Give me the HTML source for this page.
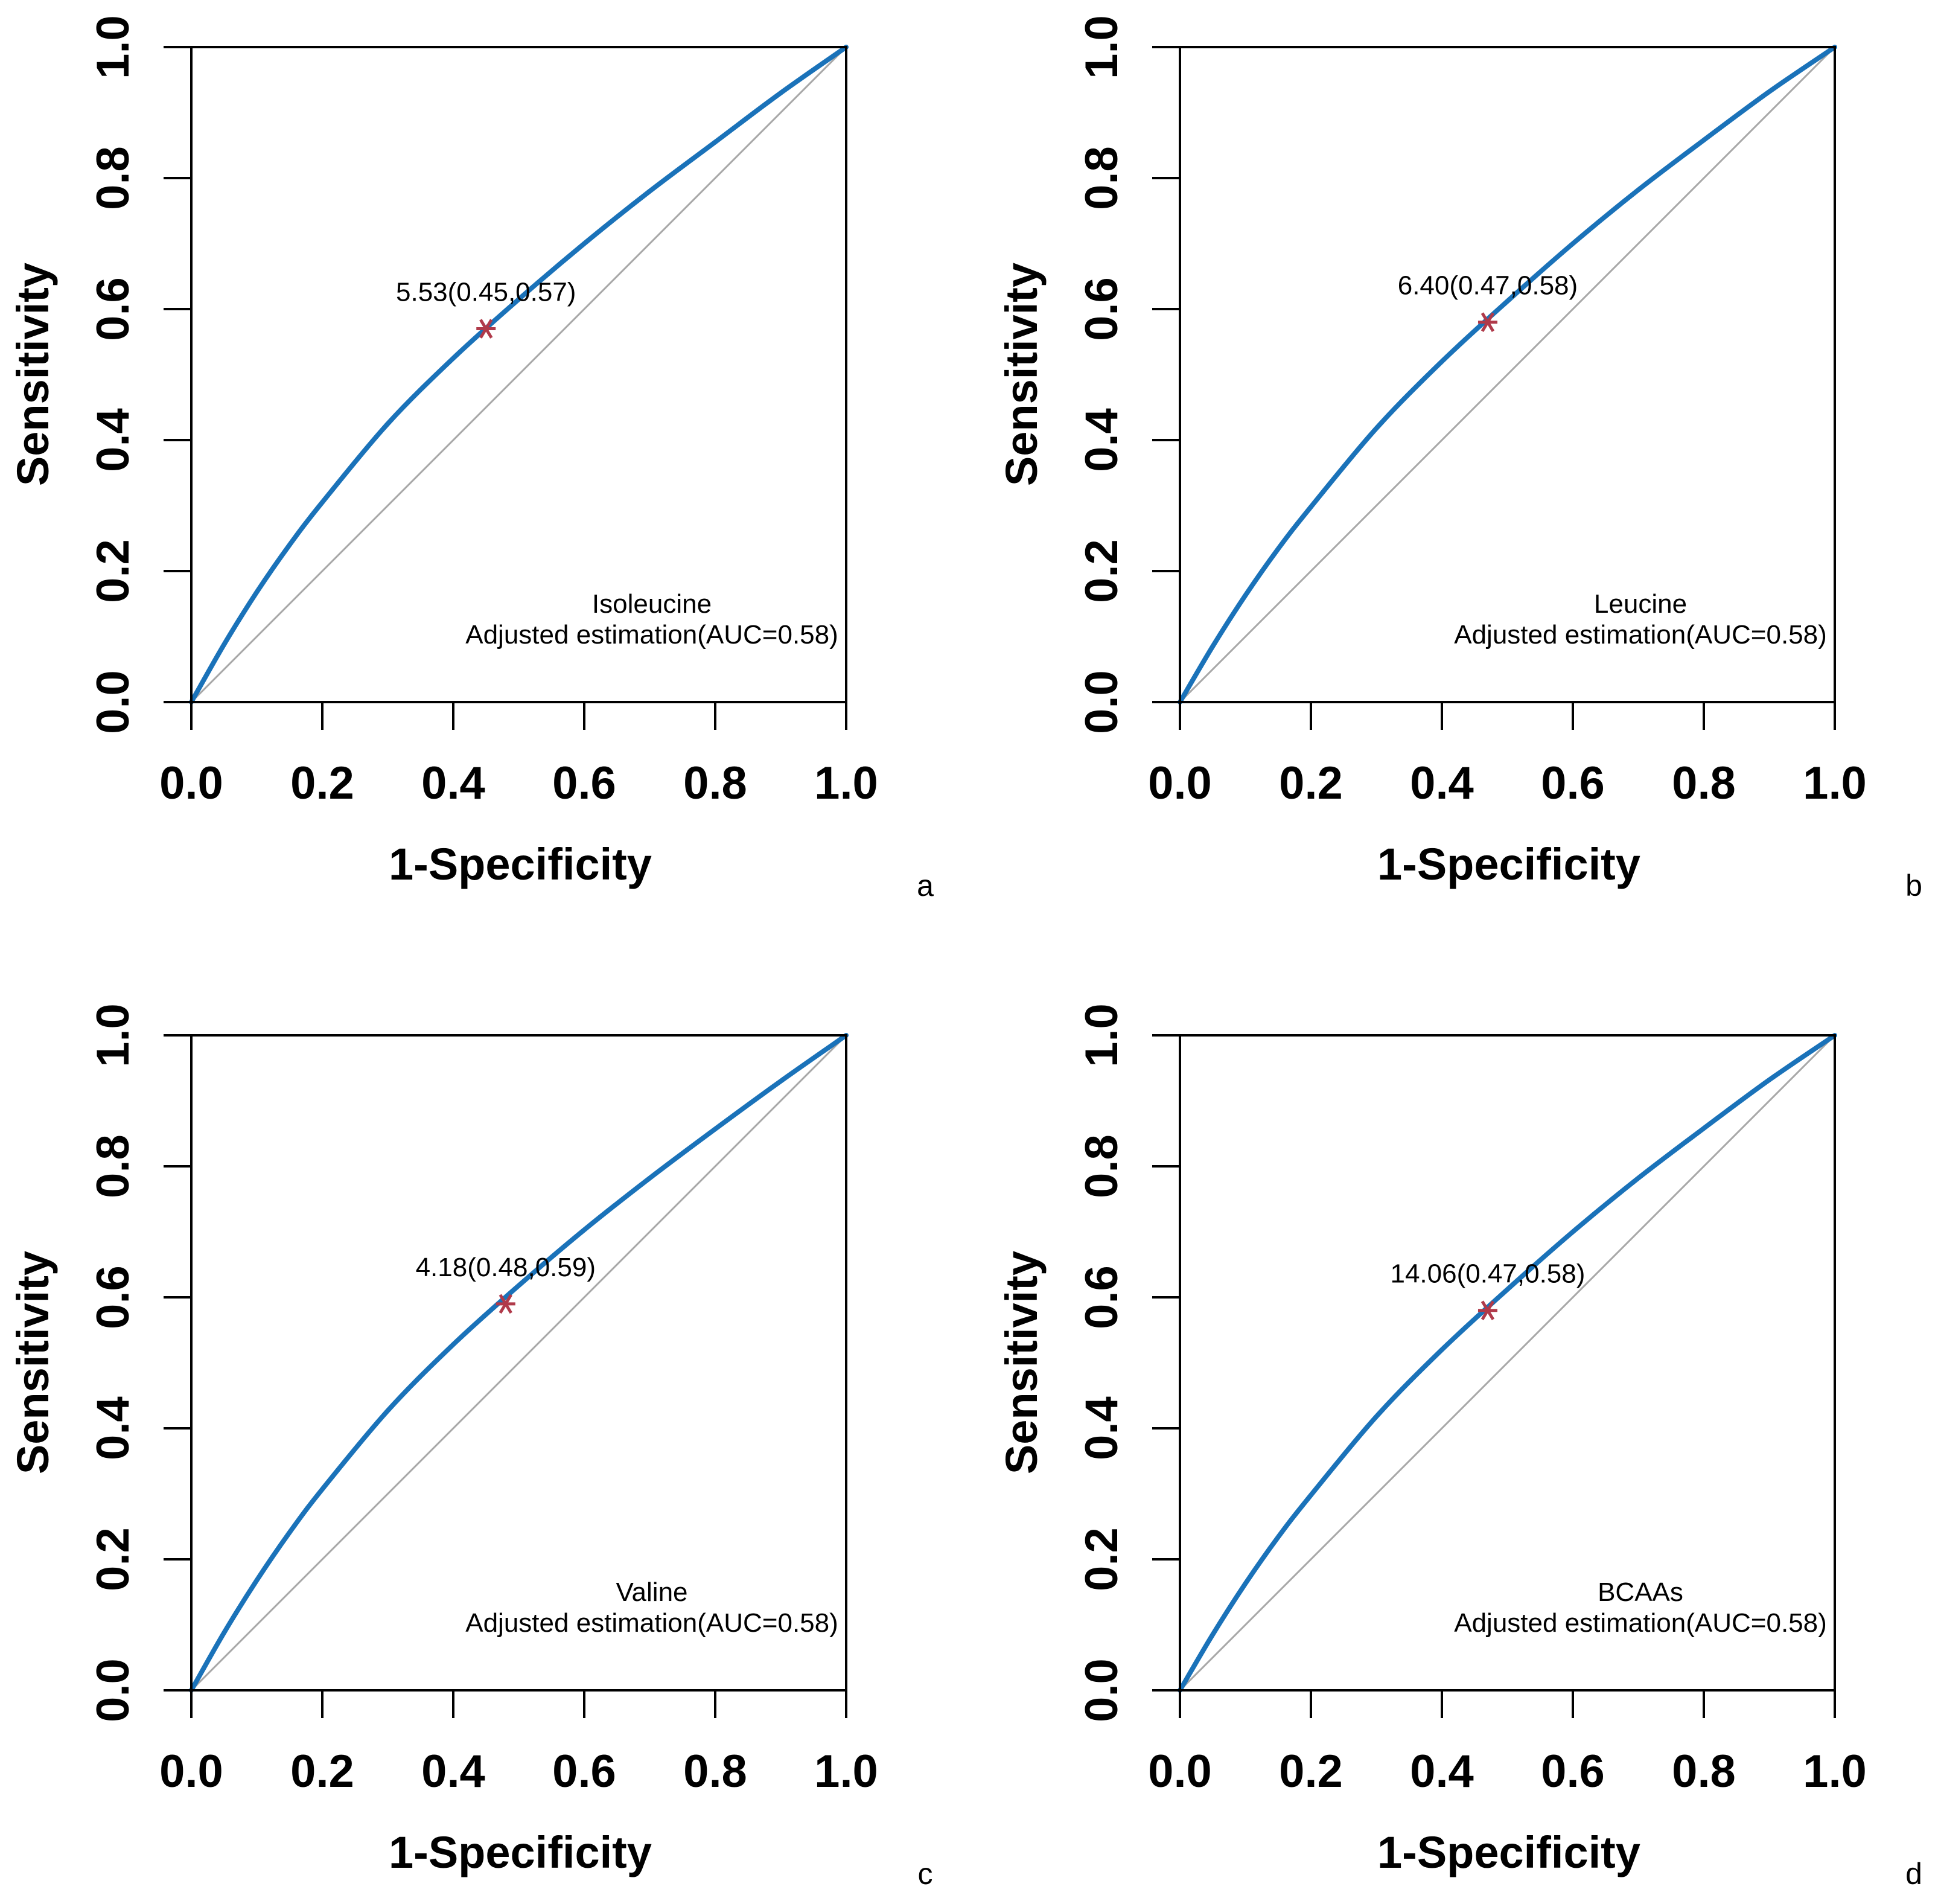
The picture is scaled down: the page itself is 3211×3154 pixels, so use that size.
<!DOCTYPE html>
<html><head><meta charset="utf-8"><style>
html,body{margin:0;padding:0;background:#fff;}
svg{display:block;font-family:"Liberation Sans",Arial,sans-serif;}
</style></head><body>
<svg id="fig" width="3211" height="3154" viewBox="0 0 3211 3154" xmlns="http://www.w3.org/2000/svg"></svg>
<script>
const panelNames = ["Isoleucine","Leucine","Valine","BCAAs"];
const panelLetters = ["a","b","c","d"];
const cutLabels = ["5.53(0.45,0.57)","6.40(0.47,0.58)","4.18(0.48,0.59)","14.06(0.47,0.58)"];
const cutX = [0.45,0.47,0.48,0.47];
const cutY = [0.57,0.58,0.59,0.58];
const aucLabels = ["Adjusted estimation(AUC=0.58)","Adjusted estimation(AUC=0.58)","Adjusted estimation(AUC=0.58)","Adjusted estimation(AUC=0.58)"];
const fprValues = [0,0.05,0.1,0.15,0.2,0.3,0.4,0.5,0.6,0.7,0.8,0.9,1];
const tprA = [0,0.088,0.168,0.24,0.305,0.425,0.525,0.615,0.70,0.78,0.855,0.93,1];
const tprB = [0,0.085,0.163,0.234,0.298,0.418,0.52,0.612,0.70,0.782,0.858,0.932,1];
const tprC = [0,0.088,0.168,0.241,0.307,0.427,0.528,0.618,0.703,0.782,0.857,0.93,1];
const tprD = [0,0.085,0.163,0.234,0.298,0.418,0.52,0.612,0.70,0.782,0.858,0.932,1];
const tprSeries = [tprA,tprB,tprC,tprD];
const tickValues = [0,0.2,0.4,0.6,0.8,1.0];
const tickLabels = ["0.0","0.2","0.4","0.6","0.8","1.0"];

const NS="http://www.w3.org/2000/svg";
const svg=document.getElementById('fig');
function mk(tag,attrs,parent){const e=document.createElementNS(NS,tag);for(const k in attrs)e.setAttribute(k,attrs[k]);(parent||svg).appendChild(e);return e;}
const offsets=[[0,0],[1638,0],[0,1637],[1638,1637]];
const L=317,T=78,S=1085;
for(let p=0;p<4;p++){
  const [ox,oy]=offsets[p];
  const g=mk('g',{transform:`translate(${ox},${oy})`});
  
  
  const xs=v=>L+v*S, ys=v=>T+S-v*S;
  const d=mk('line',{x1:xs(0),y1:ys(0),x2:xs(1),y2:ys(1),stroke:'#a8a8a8','stroke-width':3},g);
  
  
  const tpr=tprSeries[p];
  let pts=fprValues.map((f,i)=>[xs(f),ys(tpr[i])]);
  let dstr=`M${pts[0][0]},${pts[0][1]}`;
  for(let i=0;i<pts.length-1;i++){
    const p0=pts[Math.max(0,i-1)],p1=pts[i],p2=pts[i+1],p3=pts[Math.min(pts.length-1,i+2)];
    const c1=[p1[0]+(p2[0]-p0[0])/6,p1[1]+(p2[1]-p0[1])/6];
    const c2=[p2[0]-(p3[0]-p1[0])/6,p2[1]-(p3[1]-p1[1])/6];
    dstr+=` C${c1[0]},${c1[1]} ${c2[0]},${c2[1]} ${p2[0]},${p2[1]}`;
  }
  const c=mk('path',{d:dstr,fill:'none',stroke:'#1a72b9','stroke-width':8,'stroke-linecap':'round'},g);
  
  
  const b=mk('rect',{x:L,y:T,width:S,height:S,fill:'none',stroke:'#000','stroke-width':4},g);
  
  
  tickValues.forEach((v,i)=>{
    const tx=mk('line',{x1:xs(v),y1:T+S,x2:xs(v),y2:T+S+46,stroke:'#000','stroke-width':4},g);
    
    
    const ty=mk('line',{x1:L,y1:ys(v),x2:L-46,y2:ys(v),stroke:'#000','stroke-width':4},g);
    
    
    const lx=mk('text',{x:xs(v),y:T+S+160,'font-size':76,'font-weight':'bold','text-anchor':'middle'},g);
    lx.textContent=tickLabels[i];
    
    
    const ly=mk('text',{x:0,y:0,'font-size':76,'font-weight':'bold','text-anchor':'middle',transform:`translate(213,${ys(v)}) rotate(-90)`},g);
    ly.textContent=tickLabels[i];
    
    
  });
  const xt=mk('text',{x:862,y:1457,'font-size':74,'font-weight':'bold','text-anchor':'middle'},g);
  xt.textContent='1-Specificity';
  
  
  const yt=mk('text',{x:0,y:0,'font-size':74,'font-weight':'bold','text-anchor':'middle',transform:'translate(80,620) rotate(-90)'},g);
  yt.textContent='Sensitivity';
  
  
  const lt=mk('text',{x:1533,y:1484,'font-size':50,'text-anchor':'middle'},g);
  lt.textContent=panelLetters[p];
  
  
  const mx=xs(cutX[p]),my=ys(cutY[p]);
  const m=mk('path',{d:`M${mx-16},${my} H${mx+16} M${mx-9},${my-15} L${mx+9},${my+15} M${mx-9},${my+15} L${mx+9},${my-15}`,stroke:'#b03a4a','stroke-width':5,fill:'none'},g);
  
  
  const cl=mk('text',{x:mx,y:my-46,'font-size':44,'text-anchor':'middle'},g);
  cl.textContent=cutLabels[p];
  
  
  const n1=mk('text',{x:1080,y:1015,'font-size':44,'text-anchor':'middle'},g);
  n1.textContent=panelNames[p];
  
  
  const n2=mk('text',{x:1080,y:1066,'font-size':44,'text-anchor':'middle'},g);
  n2.textContent=aucLabels[p];
  
  
}
</script>
</body></html>
